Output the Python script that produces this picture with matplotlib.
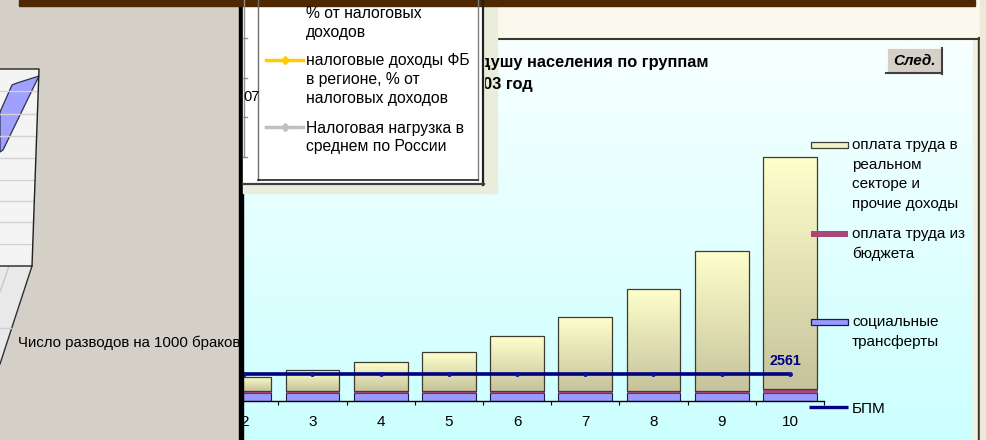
import numpy as np
import matplotlib
matplotlib.use('Agg')
import matplotlib.pyplot as plt
from matplotlib.patches import Rectangle, Polygon
from matplotlib.colors import to_rgb

plt.rcParams['font.family'] = ['Liberation Sans', 'DejaVu Sans']

# ---------------- data ----------------
groups = [2, 3, 4, 5, 6, 7, 8, 9, 10]
social_transfers = [730, 730, 730, 730, 730, 730, 730, 730, 730]
budget_pay = [260, 260, 260, 260, 260, 260, 260, 260, 380]
real_sector = [1330, 1940, 2720, 3670, 5160, 6990, 9650, 13220, 22000]
bpm_groups = [1, 2, 3, 4, 5, 6, 7, 8, 9, 10]
bpm_values = [2561, 2561, 2561, 2561, 2561, 2561, 2561, 2561, 2561, 2561]
bpm_label = '2561'
tick_labels = ['2', '3', '4', '5', '6', '7', '8', '9', '10']
legend_real = ['оплата труда в', 'реальном', 'секторе и', 'прочие доходы']
legend_budget = ['оплата труда из', 'бюджета']
legend_social = ['социальные', 'трансферты']
legend_bpm = ['БПМ']
title_line1 = 'душу населения по группам'
title_line2 = '2003 год'
left_legend_1 = ['% от налоговых', 'доходов']
left_legend_2 = ['налоговые доходы ФБ', 'в регионе, % от', 'налоговых доходов']
left_legend_3 = ['Налоговая нагрузка в', 'среднем по России']
left_caption = 'Число разводов на 1000 браков'
axis_fragment = '07'
button_text = 'След.'

W, H = 987, 440


def grad(c_top, c_bot, n=256):
    a = np.array(to_rgb(c_top))
    b = np.array(to_rgb(c_bot))
    t = np.linspace(0, 1, n)[:, None]
    return (a * (1 - t) + b * t)[:, None, :]


fig = plt.figure(figsize=(W / 100, H / 100), dpi=100)

# ---------------- background layer ----------------
bg = fig.add_axes([0, 0, 1, 1])
bg.set_xlim(0, W)
bg.set_ylim(H, 0)
bg.axis('off')
bg.set_zorder(0)
bg.add_patch(Rectangle((240, 0), 747, 440, color='#fbf8ee', zorder=0))
bg.imshow(grad('#f8ffff', '#ccffff'), extent=[243, 973, 440, 40],
          aspect='auto', origin='upper', zorder=0.5)
bg.add_patch(Rectangle((973, 38), 6, 402, color='#f4f1e4', zorder=1))
bg.add_patch(Rectangle((978, 37), 2.2, 403, color='#3a3a2a', zorder=1))
bg.add_patch(Rectangle((980.2, 0), 7, 440, color='#ece9d8', zorder=1))
bg.plot([497, 979], [38.8, 38.8], color='#3a3a2a', lw=1.5, zorder=1)
bg.add_patch(Rectangle((484, 6), 13, 187, color='#e9eedc', zorder=1))
bg.text(480, 62, title_line1, fontsize=11.8, fontweight='bold', va='center', ha='left', zorder=3)
bg.text(465, 85, title_line2, fontsize=11.8, fontweight='bold', va='center', ha='left', zorder=3)

# ---------------- data layer ----------------
px_left, px_right, px_base, ymax, px_per_unit = 142, 824, 401, 25000, 2561 / 27.0
px_top = px_base - ymax / px_per_unit
ax = fig.add_axes([px_left / W, (H - px_base) / H, (px_right - px_left) / W, (px_base - px_top) / H])
ax.set_zorder(1)
ax.patch.set_alpha(0)
bw = 0.79
x = np.array(groups, dtype=float)
s = np.array(social_transfers, dtype=float)
b = np.array(budget_pay, dtype=float)
r = np.array(real_sector, dtype=float)

bars_s = ax.bar(x, s, bw, color='#9999ff', edgecolor='#1a1a50', linewidth=0.8, zorder=2)
bars_b = ax.bar(x, b, bw, bottom=s, color='#a8487a', edgecolor='#803058', linewidth=0.5, zorder=2)
bars_r = ax.bar(x, r, bw, bottom=s + b, facecolor='none', edgecolor='#3c3c30', linewidth=0.9, zorder=3)
g = grad('#ffffcc', '#c6c39c')
for p in bars_r:
    x0, y0, w, h = p.get_x(), p.get_y(), p.get_width(), p.get_height()
    im = ax.imshow(g, extent=[x0, x0 + w, y0, y0 + h], aspect='auto', origin='upper', zorder=2.5)
    im.set_clip_path(p)

ax.plot(bpm_groups, bpm_values, color='#000080', lw=2.6, marker='o', ms=2.5,
        markerfacecolor='#101090', markeredgecolor='#101090', zorder=4, solid_capstyle='butt')
ax.annotate(bpm_label, xy=(groups[-1], bpm_values[-1]), xytext=(-5, 13), textcoords='offset pixels',
            ha='center', va='center', fontsize=10.3, fontweight='bold', color='#000080', zorder=5)

ax.set_xlim(0.5, 10.5)
ax.set_ylim(0, ymax)
ax.set_xticks(groups)
ax.set_xticklabels(tick_labels, fontsize=11)
ax.set_xticks(np.arange(1.5, 10.6, 1.0), minor=True)
ax.tick_params(axis='x', which='major', length=0, pad=10)
ax.tick_params(axis='x', which='minor', length=3, width=0.8, direction='out', color='black')
ax.set_yticks([])
for sp in ['top', 'right', 'left']:
    ax.spines[sp].set_visible(False)
ax.spines['bottom'].set_color('black')
ax.spines['bottom'].set_linewidth(1.0)

# ---------------- overlay layer ----------------
ov = fig.add_axes([0, 0, 1, 1])
ov.set_xlim(0, W)
ov.set_ylim(H, 0)
ov.axis('off')
ov.set_zorder(2)
ov.patch.set_alpha(0)

# right legend
ov.add_patch(Rectangle((811, 142), 37, 6, fc='#f2f0c4', ec='#404038', lw=0.9))
ov.add_patch(Rectangle((811, 231), 37, 6, fc='#a8487a', ec='none'))
ov.add_patch(Rectangle((811, 319), 37, 6, fc='#9999ff', ec='#1a1a50', lw=0.9))
ov.plot([809, 848], [407, 407], color='#000080', lw=2.4, solid_capstyle='butt')
for lines, y0 in [(legend_real, 145), (legend_budget, 234), (legend_social, 322), (legend_bpm, 409)]:
    for i, t in enumerate(lines):
        ov.text(852, y0 + i * 19.6, t, fontsize=11, va='center', ha='left')

# button
ov.add_patch(Rectangle((886, 48), 56, 26, fc='#d4d0c8', ec='none'))
ov.plot([886, 942], [48.5, 48.5], color='white', lw=1.2)
ov.plot([886.5, 886.5], [48, 74], color='white', lw=1.2)
ov.plot([886, 942], [73.5, 73.5], color='#404040', lw=1.5)
ov.plot([941.5, 941.5], [48, 74], color='#404040', lw=1.5)
ov.text(914, 61, button_text, fontsize=11, fontweight='bold', fontstyle='italic', ha='center', va='center')

# left gray window with 3D chart fragment
ov.add_patch(Rectangle((0, 0), 238.5, 440, color='#d4d0c8'))
ov.add_patch(Polygon([(0, 266), (32, 266), (0, 364)], closed=True, fc='#e9e9e9', ec='none'))
ov.plot([32, 0], [266, 364], color='#303030', lw=1)
ov.plot([9, 0], [266, 292], color='#c8c8c8', lw=1)
ov.plot([0, 11], [328, 328], color='#cfcfcf', lw=1)
ov.add_patch(Polygon([(0, 69), (39, 69), (32, 266), (0, 266)], closed=True, fc='#f4f4f4', ec='none'))
for gy in [91, 114, 136, 158, 180, 201, 222, 244]:
    xr = 39 - 7 * (gy - 69) / 197.0
    ov.plot([0, xr], [gy, gy], color='#d2d2d2', lw=1)
ov.add_patch(Polygon([(0, 112), (12, 85), (17, 83), (39, 76), (3, 150), (0, 152)], closed=True,
                     fc='#a0a0ff', ec='#303050', lw=0.9))
ov.plot([0, 39, 32, 0], [69, 69, 266, 266], color='#202020', lw=1)
ov.text(18, 343, left_caption, fontsize=10.8, va='center', ha='left')

# black divider
ov.add_patch(Rectangle((238.5, 0), 4.2, 440, color='black'))

# legend box of another window
ov.add_patch(Rectangle((242.7, 0), 241.3, 193, color='#e9eedc'))
ov.add_patch(Rectangle((484, 184), 13, 9, color='#e9eedc'))
ov.add_patch(Rectangle((242.7, 0), 241.3, 184, fc='white', ec='none'))
ov.plot([258, 258], [0, 180], color='#707070', lw=1)
ov.plot([478, 478], [0, 180], color='#808080', lw=1)
ov.plot([258, 478], [180, 180], color='#202020', lw=1.2)
ov.plot([483, 483], [0, 185], color='#202020', lw=1.6)
ov.plot([243, 484], [184.5, 184.5], color='#404040', lw=1.6)
ov.plot([244, 244], [0, 157], color='#909090', lw=1)
for ty in [38, 78, 117, 157]:
    ov.plot([243, 247], [ty, ty], color='#909090', lw=1)
ov.text(243.5, 97, axis_fragment, fontsize=10.5, va='center', ha='left')
ov.plot([266, 303], [60, 60], color='#ffcc00', lw=2.5)
ov.plot([285], [60], marker='D', ms=4, color='#ffcc00')
ov.plot([266, 303], [127, 127], color='#c0c0c0', lw=2.5)
ov.plot([285], [127], marker='D', ms=4, color='#c0c0c0')
for lines, y0 in [(left_legend_1, 13.5), (left_legend_2, 61), (left_legend_3, 128)]:
    for i, t in enumerate(lines):
        ov.text(306, y0 + i * 18.5, t, fontsize=11.3, va='center', ha='left')

# top brown bar
ov.add_patch(Rectangle((19, 0), 956, 6.5, color='#4d2800'))

fig.savefig('out.png', dpi=100)
